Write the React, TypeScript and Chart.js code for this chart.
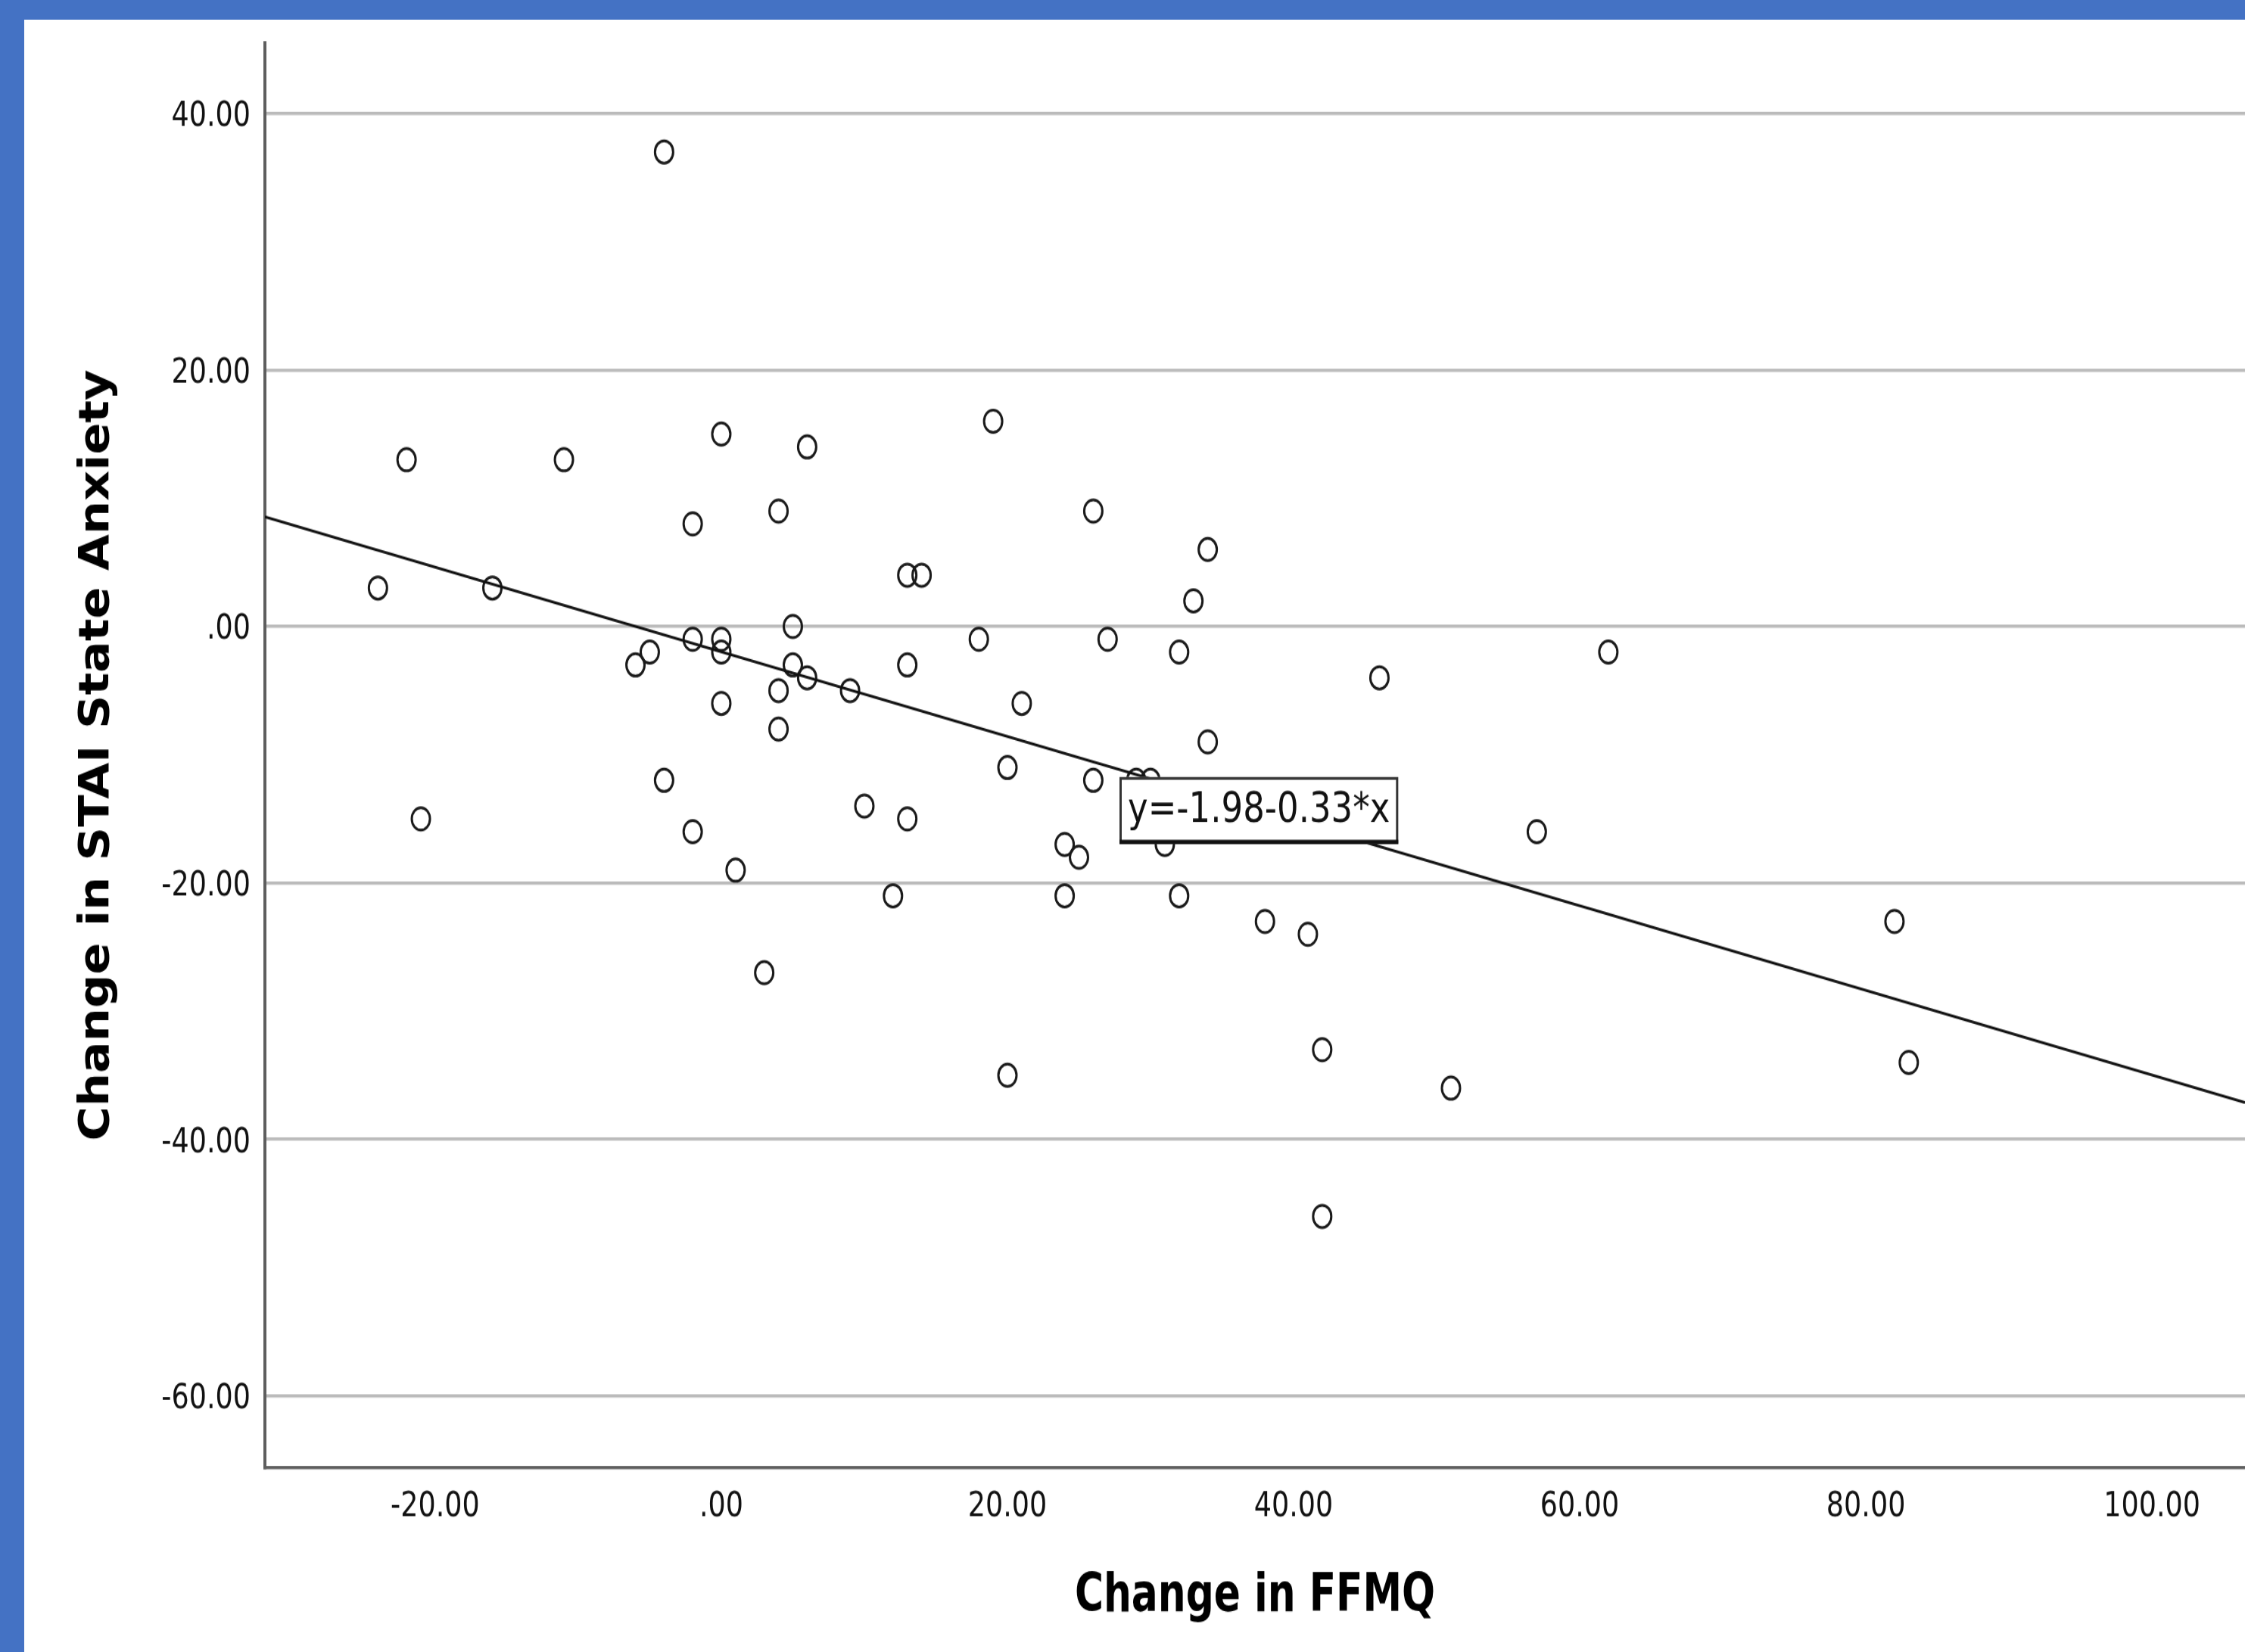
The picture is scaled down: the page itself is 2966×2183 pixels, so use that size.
import React, { useEffect, useRef } from 'react';
import { Chart, registerables } from 'chart.js';

Chart.register(...registerables);

// ---- Data ----
const ffmqChange = [
  -4, -22, -11, 0, 6, 19, 4, -2, -24, -16,
  13, 14, 26, 34, 33, 5, -2, 0, 0, -5,
  -6, 5, 6, 4, 9, 0, 4, 18, 27, 32,
  13, 21, 34, 46, 62, -4, -21, -2, 1, 10,
  13, 20, 26, 29, 30, 24, 25, 31, 12, 24,
  32, 57, 38, 41, 82, 3, 20, 42, 51, 83,
  42,
];
const staiChange = [
  37, 13, 13, 15, 14, 16, 9, 8, 3, 3,
  4, 4, 9, 6, 2, 0, -1, -1, -2, -2,
  -3, -3, -4, -5, -5, -6, -8, -1, -1, -2,
  -3, -6, -9, -4, -2, -12, -15, -16, -19, -14,
  -15, -11, -12, -12, -12, -17, -18, -17, -21, -21,
  -21, -16, -23, -24, -23, -27, -35, -33, -36, -34,
  -46,
];
const xTickValues = [-20, 0, 20, 40, 60, 80, 100];
const xTickLabels = ['-20.00', '.00', '20.00', '40.00', '60.00', '80.00', '100.00'];
const yTickValues = [-60, -40, -20, 0, 20, 40];
const yTickLabels = ['-60.00', '-40.00', '-20.00', '.00', '20.00', '40.00'];
const fitIntercept = -1.98;
const fitSlope = -0.33;
const fitLabel = 'y=-1.98-0.33*x';
const xTitle = 'Change in FFMQ';
const yTitle = 'Change in STAI State Anxiety';

// ---- Axis ranges ----
const X_MIN = -31.9;
const X_MAX = 106.5;
const Y_MIN = -65.6;
const Y_MAX = 45.5;

// ---- Layout / style ----
const PAGE_W = 2966;
const PAGE_H = 2183;
const FRAME_LEFT = 32;
const FRAME_TOP = 26;
const CSS_W = PAGE_W - FRAME_LEFT;
const CSS_H = PAGE_H - FRAME_TOP;
const STRETCH = 1.23;
const INT_H = Math.round(CSS_H / STRETCH);
const PLOT_LEFT = 318;
const PLOT_TOP = 25;
const PLOT_BOTTOM = 1556;
const FIT_BOX_X = 27.83;
const FIT_BOX_Y = -11.74;
const FIT_BOX_H = 72;

const TICK_FONT = "'DejaVu Sans', sans-serif";
const TITLE_FONT = "'DejaVu Sans Condensed', 'DejaVu Sans', sans-serif";

const fitLabelPlugin = {
  id: 'fitLabel',
  afterDatasetsDraw(chart: any) {
    const { ctx, scales } = chart;
    const left = scales.x.getPixelForValue(FIT_BOX_X);
    const top = scales.y.getPixelForValue(FIT_BOX_Y);
    ctx.save();
    ctx.font = `45px ${TICK_FONT}`;
    const tw = ctx.measureText(fitLabel).width;
    const w = tw + 22;
    const h = FIT_BOX_H;
    ctx.fillStyle = '#ffffff';
    ctx.fillRect(left, top, w, h);
    ctx.strokeStyle = '#333333';
    ctx.lineWidth = 3;
    ctx.strokeRect(left + 1.5, top + 1.5, w - 3, h - 3);
    ctx.fillStyle = '#111111';
    ctx.fillRect(left, top + h - 4.5, w, 4.5);
    ctx.fillStyle = '#111111';
    ctx.textAlign = 'left';
    ctx.textBaseline = 'middle';
    ctx.fillText(fitLabel, left + 11, top + h / 2 + 1);
    ctx.restore();
  },
};

export default function App() {
  const canvasRef = useRef<HTMLCanvasElement | null>(null);

  useEffect(() => {
    document.body.style.margin = '0';
    const canvas = canvasRef.current;
    if (!canvas) return;

    const points = ffmqChange.map((x, i) => ({ x, y: staiChange[i] }));
    const fitLine = [X_MIN, X_MAX].map((x) => ({ x, y: fitIntercept + fitSlope * x }));

    const chart = new Chart(canvas, {
      type: 'scatter',
      data: {
        datasets: [
          {
            type: 'line',
            label: 'Fit',
            data: fitLine,
            borderColor: '#111111',
            borderWidth: 3,
            pointRadius: 0,
            fill: false,
            order: 1,
          } as any,
          {
            type: 'scatter',
            label: 'Cases',
            data: points,
            pointRadius: 12,
            pointBorderWidth: 3,
            pointBorderColor: '#1a1a1a',
            pointBackgroundColor: 'rgba(0,0,0,0)',
            order: 2,
          } as any,
        ],
      },
      options: {
        responsive: false,
        maintainAspectRatio: false,
        animation: false,
        devicePixelRatio: 1,
        layout: { autoPadding: false, padding: { left: 0, right: 0, top: PLOT_TOP, bottom: 0 } },
        plugins: {
          legend: { display: false },
          tooltip: { enabled: false },
        },
        scales: {
          x: {
            type: 'linear',
            position: 'bottom',
            min: X_MIN,
            max: X_MAX,
            afterBuildTicks: (scale: any) => {
              scale.ticks = xTickValues.map((v) => ({ value: v }));
            },
            afterFit: (scale: any) => {
              scale.height = INT_H - PLOT_BOTTOM;
              scale.paddingLeft = 0;
              scale.paddingRight = 0;
            },
            grid: { display: false, drawTicks: false },
            border: { display: true, color: '#5e5e5e', width: 3.5 },
            ticks: {
              padding: 21,
              color: '#111111',
              maxRotation: 0,
              autoSkip: false,
              font: { family: TICK_FONT, size: 36.5 },
              callback: (v: any) => xTickLabels[xTickValues.indexOf(Number(v))] ?? '',
            },
            title: {
              display: true,
              text: xTitle,
              color: '#000000',
              font: { family: TITLE_FONT, size: 57.6, weight: 'bold' },
              padding: { top: 0, bottom: 24 },
            },
          },
          y: {
            type: 'linear',
            position: 'left',
            min: Y_MIN,
            max: Y_MAX,
            afterBuildTicks: (scale: any) => {
              scale.ticks = yTickValues.map((v) => ({ value: v }));
            },
            afterFit: (scale: any) => {
              scale.width = PLOT_LEFT;
              scale.paddingTop = 0;
              scale.paddingBottom = 0;
            },
            grid: { display: true, drawTicks: false, color: '#bbbbbb', lineWidth: 3.5 },
            border: { display: true, color: '#5e5e5e', width: 4 },
            ticks: {
              padding: 19,
              labelOffset: 4,
              color: '#111111',
              autoSkip: false,
              font: { family: TICK_FONT, size: 36.5 },
              callback: (v: any) => yTickLabels[yTickValues.indexOf(Number(v))] ?? '',
            },
            title: {
              display: true,
              text: yTitle,
              color: '#000000',
              font: { family: TITLE_FONT, size: 56, weight: 'bold' },
              padding: { top: 63, bottom: 0 },
            },
          },
        },
      } as any,
      plugins: [fitLabelPlugin],
    });

    return () => {
      chart.destroy();
    };
  }, []);

  return (
    <div
      style={{
        position: 'fixed',
        left: 0,
        top: 0,
        width: PAGE_W,
        height: PAGE_H,
        background: '#4472c4',
        overflow: 'hidden',
      }}
    >
      <div
        style={{
          position: 'absolute',
          left: FRAME_LEFT,
          top: FRAME_TOP,
          width: CSS_W,
          height: CSS_H,
          background: '#ffffff',
        }}
      >
        <canvas
          ref={canvasRef}
          width={CSS_W}
          height={INT_H}
          style={{ display: 'block', width: CSS_W, height: CSS_H }}
        />
      </div>
    </div>
  );
}
